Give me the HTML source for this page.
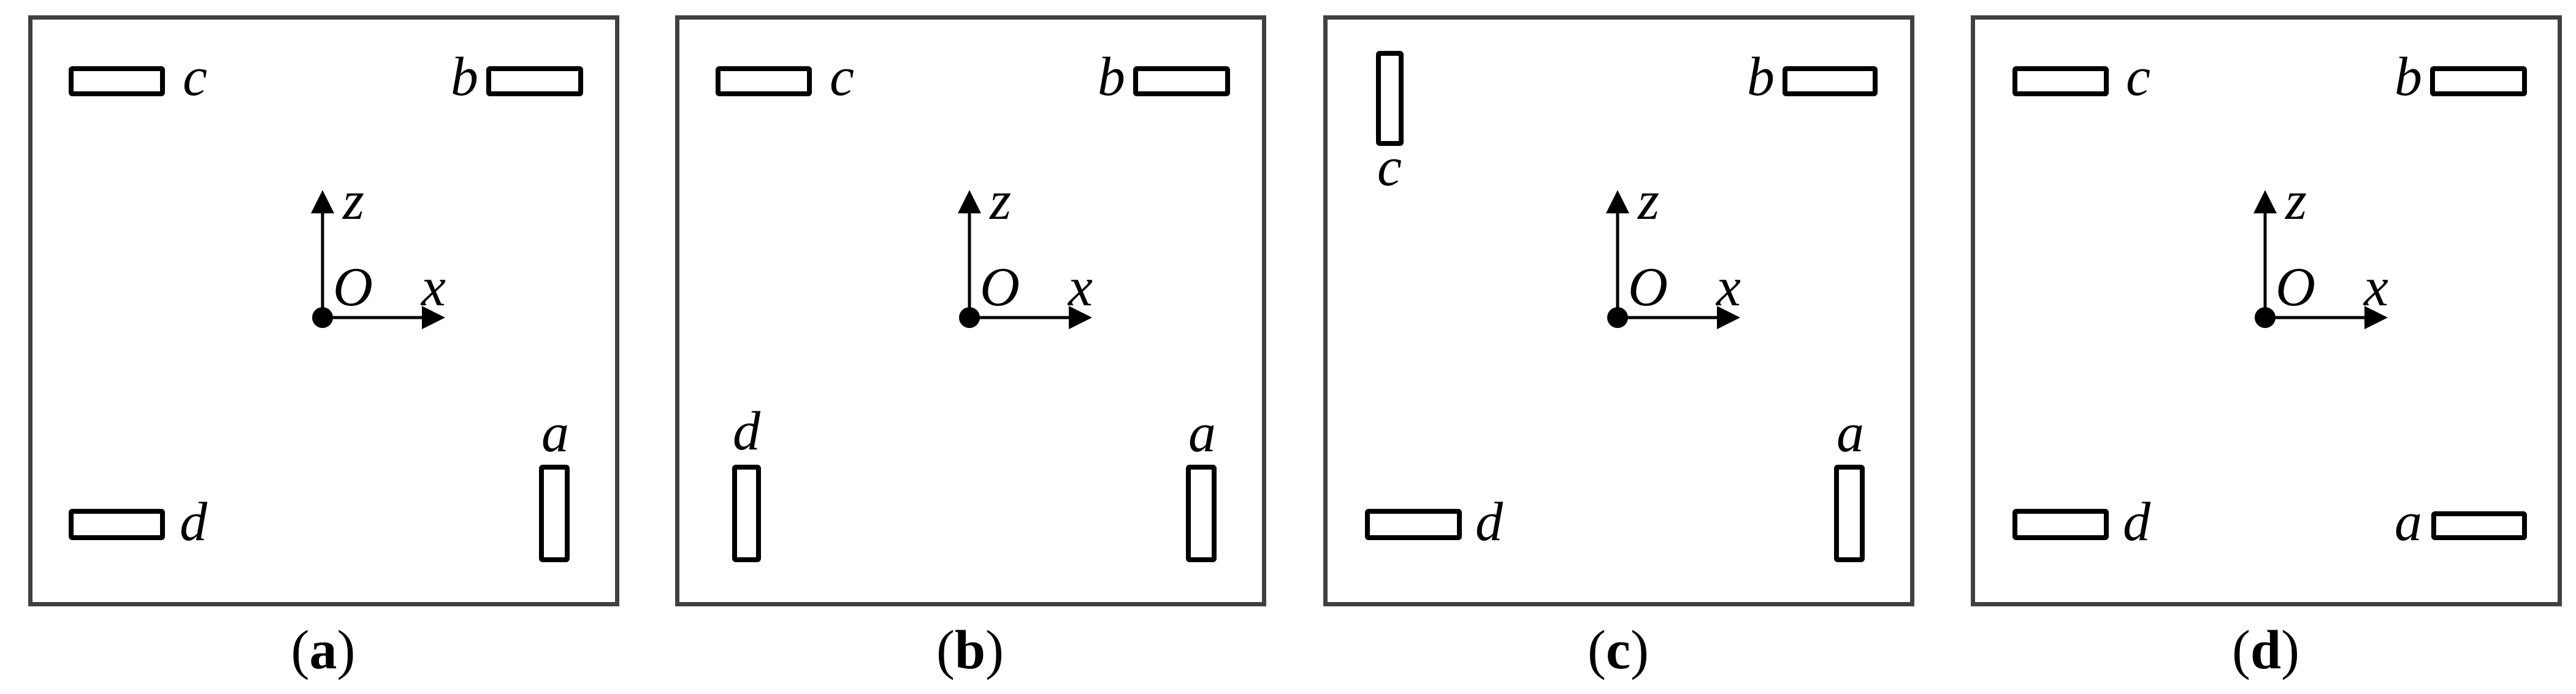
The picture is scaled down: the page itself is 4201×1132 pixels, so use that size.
<!DOCTYPE html>
<html><head><meta charset="utf-8"><style>
html,body{margin:0;padding:0;background:#fff;}
svg{display:block;}
text{font-family:"Liberation Serif",serif;font-size:90px;fill:#000;}
.i{font-style:italic;}
</style></head><body>
<svg width="4201" height="1132" viewBox="0 0 4201 1132" xmlns="http://www.w3.org/2000/svg">
<defs>
<g id="axes">
  <line x1="480" y1="518" x2="480" y2="345" stroke="#000" stroke-width="5"/>
  <polygon points="480,310 461,348 499,348" fill="#000"/>
  <line x1="480" y1="518" x2="645" y2="518" stroke="#000" stroke-width="5"/>
  <polygon points="680,518 642,499 642,537" fill="#000"/>
  <circle cx="480" cy="518" r="17" fill="#000"/>
  <text class="i" x="513" y="357">z</text>
  <text class="i" x="497" y="498">O</text>
  <text class="i" x="641" y="498">x</text>
</g>
<rect id="box" x="3.5" y="28.5" width="957" height="957" fill="none" stroke="#404040" stroke-width="7"/>
</defs>

<!-- (a) -->
<g transform="translate(46,0)">
  <use href="#box"/>
  <use href="#axes"/>
  <rect x="70" y="112" width="149" height="41" fill="none" stroke="#000" stroke-width="8" rx="2"/>
  <text class="i" x="252" y="155">c</text>
  <rect x="751" y="112" width="150" height="41" fill="none" stroke="#000" stroke-width="8" rx="2"/>
  <text class="i" x="689" y="155">b</text>
  <rect x="70" y="834" width="149" height="43" fill="none" stroke="#000" stroke-width="8" rx="2"/>
  <text class="i" x="247" y="881">d</text>
  <rect x="837" y="762" width="42" height="151" fill="none" stroke="#000" stroke-width="8" rx="2"/>
  <text class="i" x="837" y="736">a</text>
  <text x="481" y="1090" text-anchor="middle">(<tspan font-weight="bold">a</tspan>)</text>
</g>

<!-- (b) -->
<g transform="translate(1101,0)">
  <use href="#box"/>
  <use href="#axes"/>
  <rect x="70" y="112" width="149" height="41" fill="none" stroke="#000" stroke-width="8" rx="2"/>
  <text class="i" x="252" y="155">c</text>
  <rect x="751" y="112" width="150" height="41" fill="none" stroke="#000" stroke-width="8" rx="2"/>
  <text class="i" x="689" y="155">b</text>
  <rect x="97" y="762" width="39" height="151" fill="none" stroke="#000" stroke-width="8" rx="2"/>
  <text class="i" x="94" y="733">d</text>
  <rect x="837" y="762" width="42" height="151" fill="none" stroke="#000" stroke-width="8" rx="2"/>
  <text class="i" x="837" y="736">a</text>
  <text x="481" y="1090" text-anchor="middle">(<tspan font-weight="bold">b</tspan>)</text>
</g>

<!-- (c) -->
<g transform="translate(2158,0)">
  <use href="#box"/>
  <use href="#axes"/>
  <rect x="90" y="87" width="37" height="147" fill="none" stroke="#000" stroke-width="8" rx="2"/>
  <text class="i" x="88" y="302">c</text>
  <rect x="753" y="112" width="147" height="41" fill="none" stroke="#000" stroke-width="8" rx="2"/>
  <text class="i" x="691" y="155">b</text>
  <rect x="72" y="834" width="150" height="43" fill="none" stroke="#000" stroke-width="8" rx="2"/>
  <text class="i" x="248" y="881">d</text>
  <rect x="837" y="762" width="42" height="151" fill="none" stroke="#000" stroke-width="8" rx="2"/>
  <text class="i" x="837" y="736">a</text>
  <text x="481" y="1090" text-anchor="middle">(<tspan font-weight="bold">c</tspan>)</text>
</g>

<!-- (d) -->
<g transform="translate(3214,0)">
  <use href="#box"/>
  <use href="#axes"/>
  <rect x="72" y="112" width="149" height="41" fill="none" stroke="#000" stroke-width="8" rx="2"/>
  <text class="i" x="253" y="155">c</text>
  <rect x="753" y="112" width="150" height="41" fill="none" stroke="#000" stroke-width="8" rx="2"/>
  <text class="i" x="691" y="155">b</text>
  <rect x="72" y="834" width="149" height="43" fill="none" stroke="#000" stroke-width="8" rx="2"/>
  <text class="i" x="248" y="881">d</text>
  <rect x="755" y="838" width="148" height="39" fill="none" stroke="#000" stroke-width="8" rx="2"/>
  <text class="i" x="691" y="881">a</text>
  <text x="481" y="1090" text-anchor="middle">(<tspan font-weight="bold">d</tspan>)</text>
</g>
</svg>
</body></html>
